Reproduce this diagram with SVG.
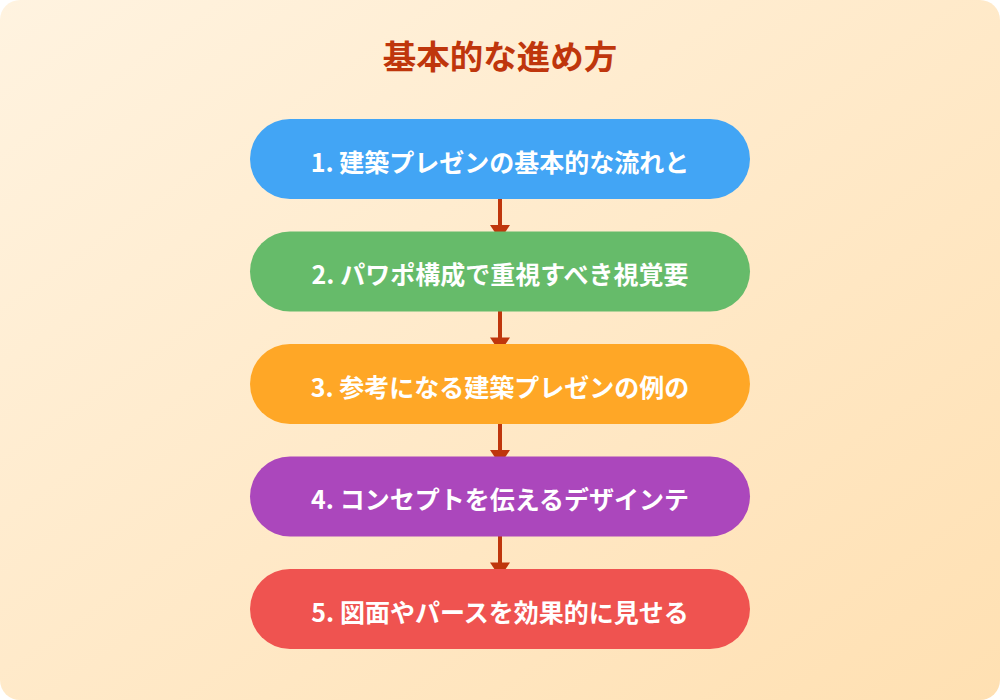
<svg xmlns="http://www.w3.org/2000/svg" width="1000" height="700" viewBox="0 0 1000 700">
<defs>
<linearGradient id="bg" x1="0" y1="0" x2="1" y2="1">
<stop offset="0" stop-color="#fff3e0"/>
<stop offset="1" stop-color="#ffe0b2"/>
</linearGradient>
</defs>
<style>
.box{stroke:none}
.lbl{font-family:"Noto Sans CJK JP","Noto Sans",sans-serif;font-weight:700;font-size:25px;fill:#ffffff;text-anchor:middle}
.title{font-family:"Noto Sans CJK JP","Noto Sans",sans-serif;font-weight:700;font-size:33.5px;fill:#bf360c;text-anchor:middle}
.conn line{stroke:#bf360c;stroke-width:4}
.conn polygon{fill:#bf360c}
</style>
<rect x="0" y="0" width="1000" height="700" rx="20" fill="url(#bg)"/>
<text class="title" x="500" y="69">基本的な進め方</text>
<g id="connectors" class="conn">
<line x1="500" y1="198" x2="500" y2="228"/>
<polygon points="490,225 510,225 500,240"/>
<line x1="500" y1="310" x2="500" y2="340"/>
<polygon points="490,337.5 510,337.5 500,352.5"/>
<line x1="500" y1="423" x2="500" y2="453"/>
<polygon points="490,450 510,450 500,465"/>
<line x1="500" y1="535" x2="500" y2="565"/>
<polygon points="490,562.5 510,562.5 500,577.5"/>
</g>
<g id="node1"><rect class="box" x="250" y="119" width="500" height="80" rx="40" fill="#42a5f5"/><text class="lbl" x="500" y="171.5">1. 建築プレゼンの基本的な流れと</text></g>
<g id="node2"><rect class="box" x="250" y="231.5" width="500" height="80" rx="40" fill="#66bb6a"/><text class="lbl" x="500" y="284">2. パワポ構成で重視すべき視覚要</text></g>
<g id="node3"><rect class="box" x="250" y="344" width="500" height="80" rx="40" fill="#ffa726"/><text class="lbl" x="500" y="396.5">3. 参考になる建築プレゼンの例の</text></g>
<g id="node4"><rect class="box" x="250" y="456.5" width="500" height="80" rx="40" fill="#ab47bc"/><text class="lbl" x="500" y="509">4. コンセプトを伝えるデザインテ</text></g>
<g id="node5"><rect class="box" x="250" y="569" width="500" height="80" rx="40" fill="#ef5350"/><text class="lbl" x="500" y="621.5">5. 図面やパースを効果的に見せる</text></g>
</svg>
